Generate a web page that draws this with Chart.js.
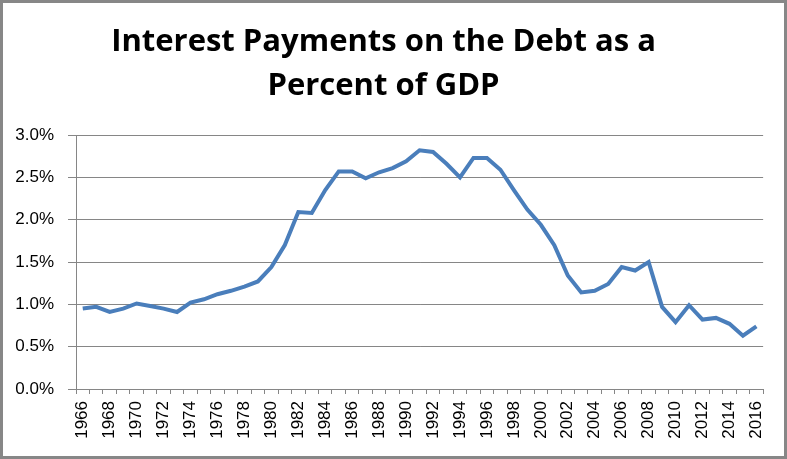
<!DOCTYPE html>
<html>
<head>
<meta charset="utf-8">
<script src="https://cdn.jsdelivr.net/npm/chart.js@4"></script>
<style>
    html, body { margin: 0; padding: 0; background: #fff; }
    .frame {
        width: 787px;
        height: 459px;
        box-sizing: border-box;
        border: 3px solid #878787;
        background: #fff;
    }
    canvas { display: block; }
</style>
</head>
<body>
<div class="frame">
    <canvas id="interestChart" width="781" height="453"></canvas>
</div>
<script>
// Interest payments on the debt, % of GDP
const years = [
    '1966', '1967', '1968', '1969', '1970', '1971', '1972', '1973', '1974', '1975',
    '1976', '1977', '1978', '1979', '1980', '1981', '1982', '1983', '1984', '1985',
    '1986', '1987', '1988', '1989', '1990', '1991', '1992', '1993', '1994', '1995',
    '1996', '1997', '1998', '1999', '2000', '2001', '2002', '2003', '2004', '2005',
    '2006', '2007', '2008', '2009', '2010', '2011', '2012', '2013', '2014', '2015',
    '2016'
];
const interestPct = [
    0.95, 0.97, 0.91, 0.95, 1.01, 0.98, 0.95, 0.91, 1.02, 1.06,
    1.12, 1.16, 1.21, 1.27, 1.44, 1.70, 2.09, 2.08, 2.35, 2.57,
    2.57, 2.49, 2.56, 2.61, 2.69, 2.82, 2.80, 2.66, 2.50, 2.73,
    2.73, 2.59, 2.35, 2.12, 1.94, 1.70, 1.34, 1.14, 1.16, 1.24,
    1.44, 1.40, 1.50, 0.97, 0.79, 0.99, 0.82, 0.84, 0.77, 0.63,
    0.74
];
const yTicks = [0, 0.5, 1.0, 1.5, 2.0, 2.5, 3.0];

const gridGray = '#868686';
const lineBlue = '#4a7ebb';

const canvas = document.getElementById('interestChart');

new Chart(canvas, {
    type: 'line',
    data: {
        labels: years,
        datasets: [{
            label: 'Interest payments (% of GDP)',
            data: interestPct,
            borderColor: lineBlue,
            borderWidth: 4,
            pointRadius: 0,
            tension: 0,
            fill: false
        }]
    },
    options: {
        responsive: false,
        animation: false,
        devicePixelRatio: 1,
        layout: {
            padding: { left: 0, right: 20, top: 0, bottom: 0 }
        },
        plugins: {
            legend: { display: false },
            tooltip: { enabled: false },
            title: {
                display: true,
                text: ['Interest Payments on the Debt as a', 'Percent of GDP'],
                color: '#000',
                font: { family: 'Open Sans', size: 31, weight: 'bold', lineHeight: 1.42 },
                padding: { top: 17, bottom: 27 }
            }
        },
        scales: {
            x: {
                type: 'category',
                offset: true,
                afterFit: (scale) => { scale.height = 67; },
                grid: {
                    offset: true,
                    drawOnChartArea: false,
                    drawTicks: true,
                    tickLength: 5,
                    color: gridGray
                },
                border: { display: true, color: gridGray, width: 1 },
                ticks: {
                    autoSkip: false,
                    minRotation: 90,
                    maxRotation: 90,
                    padding: 7,
                    color: '#000',
                    font: { family: 'Liberation Sans', size: 17 },
                    // label every other year, tick mark every year
                    callback: function (val, idx) {
                        return idx % 2 === 0 ? this.getLabelForValue(val) : '';
                    }
                }
            },
            y: {
                min: yTicks[0],
                max: yTicks[yTicks.length - 1],
                afterFit: (scale) => { scale.width = 73; },
                afterBuildTicks: (scale) => {
                    scale.ticks = yTicks.map(v => ({ value: v }));
                },
                grid: {
                    color: gridGray,
                    lineWidth: 1,
                    tickLength: 8
                },
                border: { display: true, color: gridGray, width: 1 },
                ticks: {
                    padding: 14,
                    color: '#000',
                    font: { family: 'Liberation Sans', size: 17 },
                    callback: (v) => v.toFixed(1) + '%'
                }
            }
        }
    }
});
</script>
</body>
</html>
